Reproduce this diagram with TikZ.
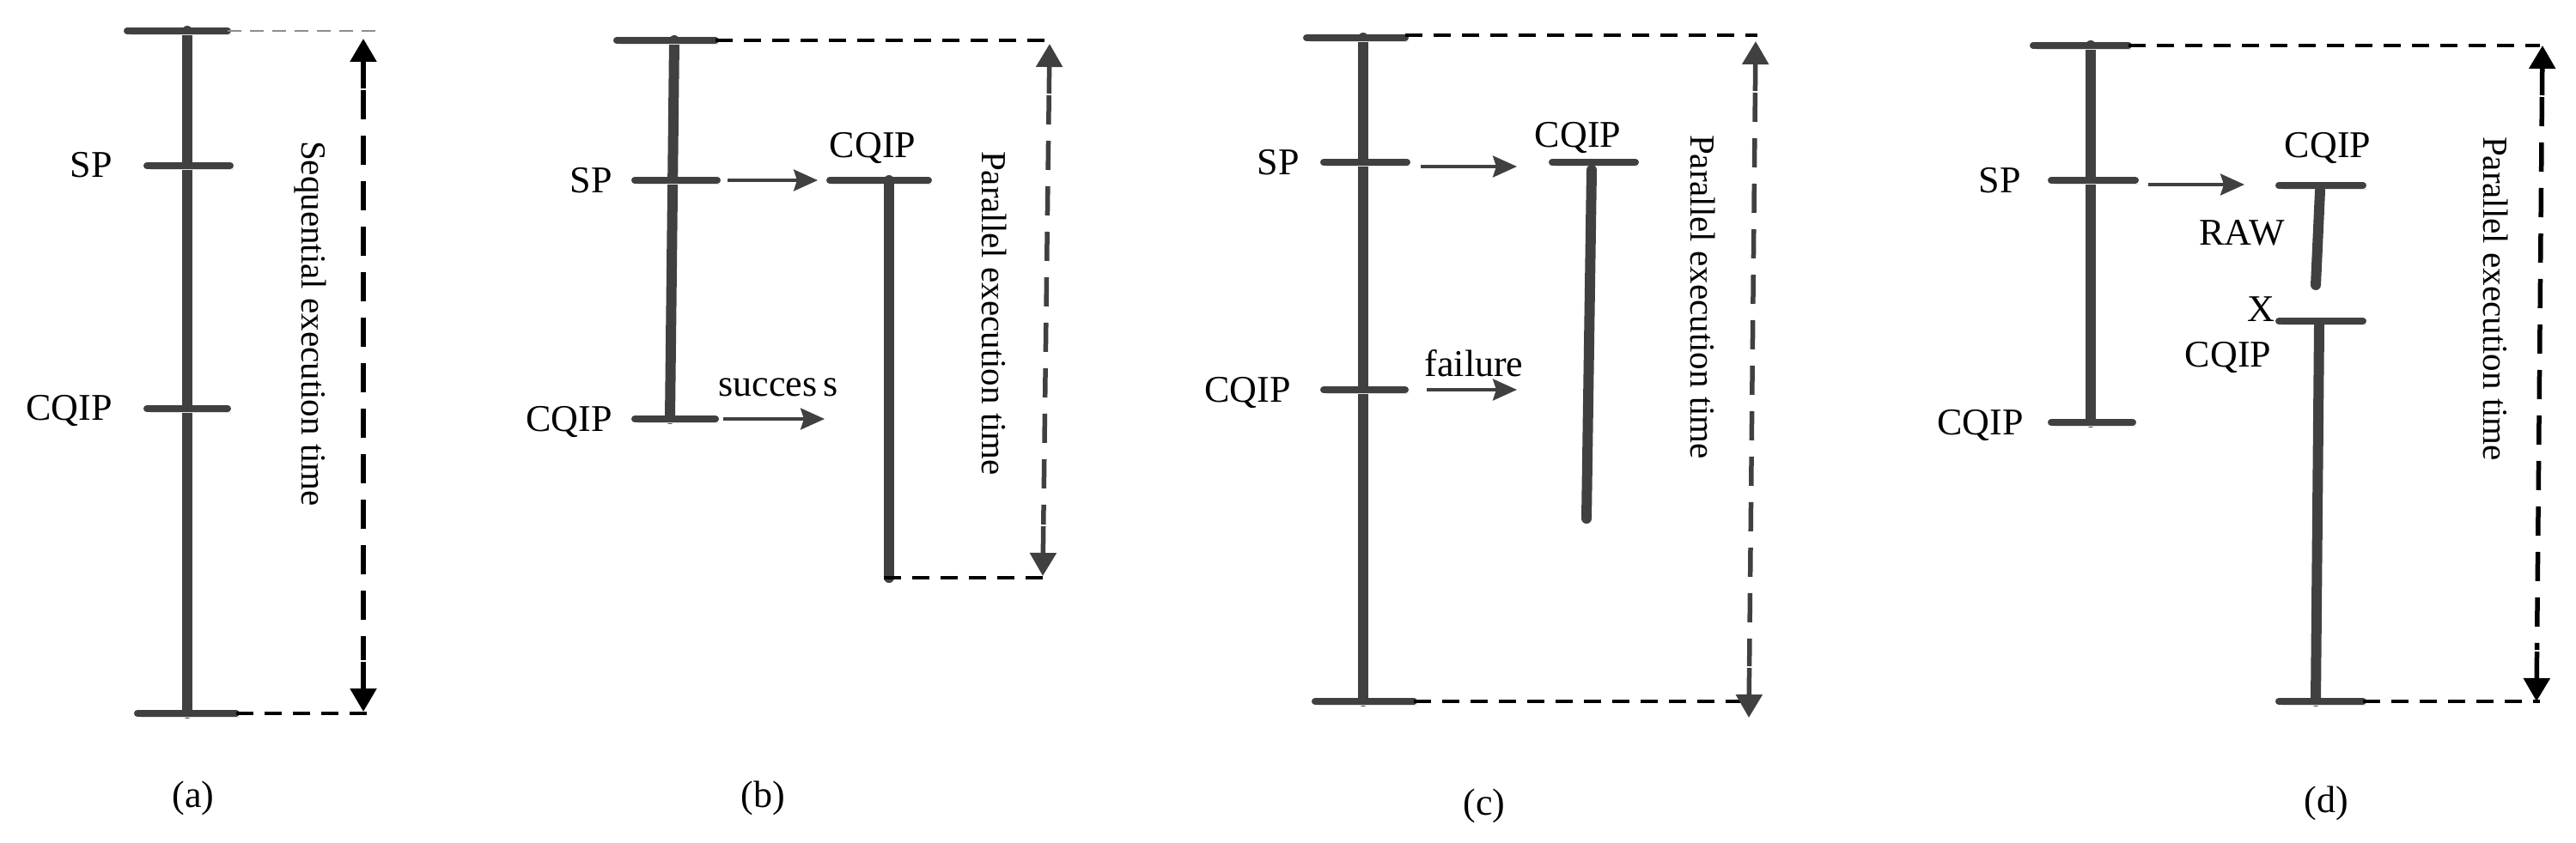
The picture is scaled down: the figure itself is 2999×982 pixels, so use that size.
\documentclass[tikz,border=0pt]{standalone}
\usepackage{fontspec}
\setmainfont{Liberation Serif}
\usetikzlibrary{arrows.meta,calc}
\definecolor{barc}{HTML}{404040}
\definecolor{shadowc}{HTML}{E2E2E2}
\tikzset{
 shad/.style={preaction={draw=shadowc, transform canvas={shift={(4pt,-4pt)}}}},
 barline/.style={draw=barc, line width=8pt, line cap=round, shad},
 stem/.style={draw=barc, line width=12pt, line cap=round, shad},
 thinarrow/.style={draw=barc, line width=3.5pt, -{Stealth[length=28pt,width=25pt,inset=4pt]}},
 timeline/.style={line width=5.5pt, dash pattern=on 34pt off 19pt},
 tiphead/.style={line width=5.5pt, -{Triangle[length=27pt,width=30pt]}},
 guide/.style={line width=3.5pt, dash pattern=on 20pt off 13pt},
 thinguide/.style={draw=black!45, line width=2pt, dash pattern=on 16pt off 10pt},
 lbl/.style={font=\fontsize{44}{54}\selectfont, inner sep=0pt},
 vlbl/.style={font=\fontsize{41}{50}\selectfont, rotate=-90, inner sep=0pt},
}
\newcommand{\timearrow}[3]{%
 \draw[timeline,#1] ($(#2)!60pt!(#3)$) -- ($(#3)!60pt!(#2)$);
 \draw[tiphead,#1] ($(#2)!58pt!(#3)$) -- (#2);
 \draw[tiphead,#1] ($(#3)!58pt!(#2)$) -- (#3);}
\begin{document}
\begin{tikzpicture}[x=1pt,y=-1pt]
\useasboundingbox (0,0) rectangle (2999,982);
% ---------------- (a)
\draw[stem] (218,36) -- (218,831);
\draw[barline] (148,36) -- (265,36);
\draw[barline] (171,193) -- (268,193);
\draw[barline] (171,476) -- (265,476);
\draw[barline] (160,831) -- (275,831);
\node[lbl, anchor=base east] (aSP) at (131,206) {SP};
\node[lbl, anchor=base east] (aCQ) at (131,489) {CQIP};
\coordinate (aGT) at (440,36); \coordinate (aGB) at (431,831);
\draw[thinguide] (265,36) -- (aGT);
\draw[guide] (275,831) -- (aGB);
\coordinate (aA1) at (423,45); \coordinate (aA2) at (423,829);
\timearrow{black}{aA1}{aA2}
\node[vlbl] (aTxt) at (361,377) {Sequential execution time};
\node[lbl] (aCap) at (225,930) {(a)};
% ---------------- (b)
\draw[stem] (785,47) -- (780,488);
\draw[barline] (718,47) -- (833,47);
\draw[barline] (739,210) -- (835,210);
\draw[barline] (739,488) -- (833,488);
\node[lbl, anchor=base east] (bSP) at (713,224) {SP};
\node[lbl, anchor=base east] (bCQ) at (713,502) {CQIP};
\coordinate (bS1) at (847,210); \coordinate (bS2) at (952,210);
\draw[thinarrow] (bS1) -- (bS2);
\draw[barline] (966,210) -- (1081,210);
\draw[stem] (1035,210) -- (1035,673);
\node[lbl] (bCQ2) at (1016,172) {CQIP};
\coordinate (bU1) at (842,488); \coordinate (bU2) at (960,488);
\draw[thinarrow] (bU1) -- (bU2);
\node[lbl, anchor=base] (bSucc) at (906,461) {succes\,s};
\coordinate (bGT) at (1223,47); \coordinate (bGB) at (1223,673);
\draw[guide] (833,47) -- (bGT);
\draw[guide] (1029,673) -- (bGB);
\coordinate (bA1) at (1222,51); \coordinate (bA2) at (1214,671);
\timearrow{barc}{bA1}{bA2}
\node[vlbl] (bTxt) at (1158,365) {Parallel execution time};
\node[lbl] (bCap) at (888,930) {(b)};
% ---------------- (c)
\draw[stem] (1587,44) -- (1587,817);
\draw[barline] (1521,44) -- (1636,44);
\draw[barline] (1541,189) -- (1638,189);
\draw[barline] (1541,454) -- (1636,454);
\draw[barline] (1531,817) -- (1646,817);
\node[lbl, anchor=base east] (cSP) at (1513,203) {SP};
\node[lbl, anchor=base east] (cCQ) at (1503,468) {CQIP};
\coordinate (cS1) at (1654,194); \coordinate (cS2) at (1766,194);
\draw[thinarrow] (cS1) -- (cS2);
\draw[barline] (1807,189) -- (1904,189);
\draw[stem] (1853,198) -- (1847,604);
\node[lbl] (cCQ2) at (1837,160) {CQIP};
\coordinate (cF1) at (1661,454); \coordinate (cF2) at (1766,454);
\draw[thinarrow] (cF1) -- (cF2);
\node[lbl, anchor=base] (cFail) at (1716,438) {failure};
\coordinate (cGT) at (2046,41); \coordinate (cGB) at (2034,817);
\draw[guide] (1636,41) -- (cGT);
\draw[guide] (1646,817) -- (cGB);
\coordinate (cA1) at (2044,48); \coordinate (cA2) at (2036,836);
\timearrow{barc}{cA1}{cA2}
\node[vlbl] (cTxt) at (1983,346) {Parallel execution time};
\node[lbl] (cCap) at (1728,939) {(c)};
% ---------------- (d)
\draw[stem] (2434,53) -- (2434,492);
\draw[barline] (2367,53) -- (2478,53);
\draw[barline] (2388,210) -- (2486,210);
\draw[barline] (2388,492) -- (2483,492);
\node[lbl, anchor=base east] (dSP) at (2353,224) {SP};
\node[lbl, anchor=base east] (dCQ) at (2356,506) {CQIP};
\coordinate (dS1) at (2501,215); \coordinate (dS2) at (2613,215);
\draw[thinarrow] (dS1) -- (dS2);
\draw[barline] (2653,216) -- (2751,216);
\node[lbl] (dCQ2) at (2710,172) {CQIP};
\draw[stem] (2701,222) -- (2696,332);
\node[lbl] (dRAW) at (2610,271) {RAW};
\node[lbl] (dX) at (2632,360) {X};
\draw[barline] (2653,374) -- (2751,374);
\node[lbl] (dCQ3) at (2594,416) {CQIP};
\draw[stem] (2700,379) -- (2696,817);
\draw[barline] (2653,817) -- (2751,817);
\coordinate (dGT) at (2957,53); \coordinate (dGB) at (2957,817);
\draw[guide] (2478,53) -- (dGT);
\draw[guide] (2751,817) -- (dGB);
\coordinate (dA1) at (2960,53); \coordinate (dA2) at (2953,817);
\timearrow{black}{dA1}{dA2}
\node[vlbl] (dTxt) at (2905,348) {Parallel execution time};
\node[lbl] (dCap) at (2708,936) {(d)};
\end{tikzpicture}
\end{document}
